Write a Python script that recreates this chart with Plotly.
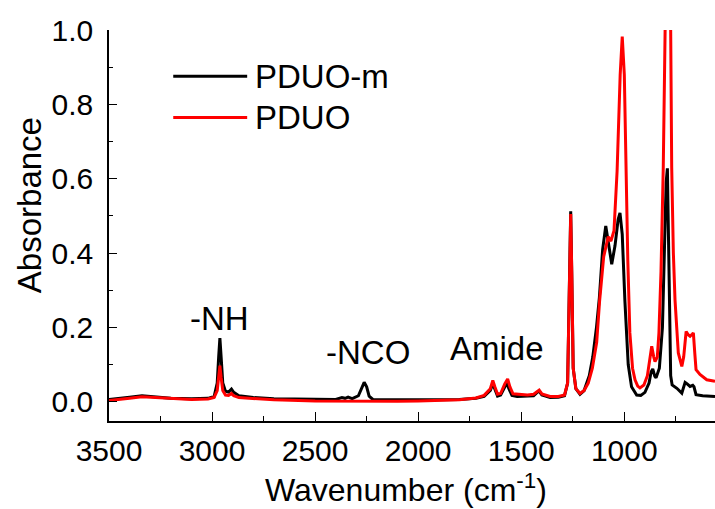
import plotly.graph_objects as go

# FTIR spectra: wavenumber (cm-1) and absorbance
wn_pduo_m = [3500, 3450, 3400, 3340, 3280, 3200, 3100, 3020, 2990, 2975, 2968, 2962, 2956, 2948,
             2935, 2920, 2906, 2895, 2870, 2800, 2700, 2500, 2400, 2370, 2355, 2340, 2320, 2290,
             2275, 2262, 2250, 2238, 2220, 2100, 2000, 1900, 1800, 1720, 1680, 1650, 1638, 1628,
             1615, 1600, 1580, 1570, 1560, 1545, 1520, 1480, 1440, 1420, 1413, 1400, 1360, 1320,
             1290, 1275, 1266, 1260, 1255, 1248, 1235, 1215, 1195, 1185, 1170, 1153, 1135, 1121,
             1105, 1090, 1080, 1061, 1045, 1030, 1021, 1010, 997, 981, 965, 940, 920, 900, 880,
             870, 862, 852, 846, 830, 815, 805, 797, 791, 786, 780, 775, 768, 745, 721, 705, 695,
             681, 668, 662, 652, 620, 560]
abs_pduo_m = [0.006, 0.008, 0.012, 0.016, 0.013, 0.009, 0.008, 0.009, 0.014, 0.05, 0.12, 0.171, 0.12, 0.05,
              0.028, 0.026, 0.034, 0.025, 0.016, 0.011, 0.008, 0.006, 0.006, 0.011, 0.009, 0.012, 0.008, 0.016,
              0.035, 0.052, 0.04, 0.015, 0.006, 0.005, 0.004, 0.005, 0.006, 0.009, 0.014, 0.03, 0.048, 0.034,
              0.015, 0.018, 0.038, 0.05, 0.035, 0.017, 0.014, 0.015, 0.016, 0.026, 0.028, 0.018, 0.011, 0.012,
              0.016, 0.05, 0.3, 0.512, 0.35, 0.09, 0.035, 0.02, 0.03, 0.045, 0.07, 0.12, 0.2, 0.28,
              0.41, 0.473, 0.44, 0.37, 0.42, 0.49, 0.508, 0.45, 0.27, 0.1, 0.04, 0.018, 0.017, 0.025, 0.05,
              0.08, 0.088, 0.068, 0.064, 0.09, 0.2, 0.42, 0.59, 0.628, 0.45, 0.15, 0.07, 0.045, 0.036, 0.023, 0.052, 0.048,
              0.041, 0.044, 0.04, 0.019, 0.016, 0.014]

wn_pduo = [3500, 3450, 3400, 3340, 3280, 3200, 3100, 3020, 2990, 2975, 2968, 2962, 2956, 2948,
           2935, 2920, 2906, 2895, 2870, 2800, 2700, 2500, 2300, 2100, 2000, 1900, 1800, 1720,
           1680, 1650, 1638, 1628, 1615, 1600, 1580, 1566, 1555, 1540, 1506, 1470, 1440, 1420,
           1413, 1400, 1360, 1320, 1290, 1275, 1266, 1260, 1255, 1248, 1235, 1215, 1195, 1175,
           1155, 1134, 1120, 1100, 1078, 1065, 1050, 1035, 1020, 1010, 1000, 992, 983, 973, 960,
           948, 935, 924, 905, 888, 875, 867, 857, 851, 840, 832, 822, 811, 802, 795, 785, 775,
           770, 762, 754, 738, 721, 712, 704, 700, 690, 681, 670, 665, 658, 652, 633, 600, 560]
abs_pduo = [0.003, 0.005, 0.009, 0.013, 0.011, 0.008, 0.006, 0.007, 0.011, 0.03, 0.065, 0.097, 0.065, 0.03,
            0.018, 0.017, 0.022, 0.016, 0.011, 0.008, 0.005, 0.002, 0.001, 0.001, 0.002, 0.003, 0.005, 0.01,
            0.017, 0.035, 0.057, 0.04, 0.02, 0.022, 0.048, 0.061, 0.04, 0.021, 0.02, 0.018, 0.02, 0.03,
            0.031, 0.021, 0.014, 0.014, 0.018, 0.05, 0.3, 0.505, 0.35, 0.09, 0.035, 0.022, 0.03, 0.05,
            0.09, 0.16, 0.27, 0.39, 0.444, 0.432, 0.46, 0.62, 0.88, 0.982, 0.88, 0.63, 0.38, 0.185, 0.09,
            0.059, 0.042, 0.037, 0.045, 0.07, 0.12, 0.149, 0.12, 0.108, 0.12, 0.185, 0.35, 0.63, 1.0, 1.35, 1.35, 1.0,
            0.63, 0.4, 0.274, 0.131, 0.095, 0.12, 0.18, 0.189, 0.18, 0.176, 0.182, 0.185, 0.13, 0.086, 0.073, 0.059, 0.055]

x_ticks = [3500, 3000, 2500, 2000, 1500, 1000]
y_ticks = [0.0, 0.2, 0.4, 0.6, 0.8, 1.0]
x_range = [3500, 560]
y_range = [-0.052, 1.0]

series = [("PDUO-m", wn_pduo_m, abs_pduo_m, "#000000"),
          ("PDUO", wn_pduo, abs_pduo, "#ff0000")]

peak_labels = [("-NH", 2962, 0.225), ("-NCO", 2245, 0.132), ("Amide", 1620, 0.142)]

x_title = "Wavenumber (cm<sup>-1</sup>)"
y_title = "Absorbance"

FONT = "Arial, Liberation Sans, sans-serif"
TICK_FS = 30
TEXT_FS = 33
LW = 3

fig = go.Figure()
for name, wn, ab, color in series:
    fig.add_trace(go.Scatter(x=wn, y=ab, mode="lines", name=name, showlegend=False,
                             line=dict(color=color, width=LW), cliponaxis=True))

axis_common = dict(showgrid=False, zeroline=False, ticks="inside", tickcolor="black",
                   tickfont=dict(family=FONT, size=TICK_FS, color="black"))

fig.update_layout(
    width=715, height=509,
    margin=dict(l=109, r=0, t=30, b=88),
    paper_bgcolor="white", plot_bgcolor="white",
    font=dict(family=FONT, size=TEXT_FS, color="black"),
    xaxis=dict(range=x_range, tickvals=x_ticks, ticklen=9, tickwidth=1.3,
               minor=dict(dtick=250, ticklen=5, ticks="inside", tickcolor="black", tickwidth=1.3),
               showline=True, linecolor="black", linewidth=1.6, ticklabelstandoff=2,
               **axis_common),
    yaxis=dict(range=y_range, tickvals=y_ticks, tickformat=".1f", ticklen=8, tickwidth=1.3,
               minor=dict(dtick=0.1, ticklen=4, ticks="inside", tickcolor="black", tickwidth=1.3),
               showline=True, linecolor="black", linewidth=1.6, ticklabelstandoff=8,
               **axis_common),
    xaxis2=dict(overlaying="x", side="top", range=x_range, tickvals=x_ticks, ticklen=9, tickwidth=1.3,
                minor=dict(dtick=250, ticklen=5, ticks="inside", tickcolor="black", tickwidth=1.3),
                showticklabels=False, showline=True, linecolor="black", linewidth=1.6,
                **axis_common),
    yaxis2=dict(overlaying="y", side="right", range=y_range, tickvals=y_ticks, ticklen=8, tickwidth=1.3,
                minor=dict(dtick=0.1, ticklen=4, ticks="inside", tickcolor="black", tickwidth=1.3),
                showticklabels=False, showline=False, **axis_common),
)

# axis titles
fig.add_annotation(xref="paper", yref="paper", x=0.49, y=-0.228, text=x_title, showarrow=False,
                   xanchor="center", yanchor="bottom", font=dict(family=FONT, size=32, color="black"))
fig.add_annotation(xref="paper", yref="paper", x=-0.132, y=0.552, text=y_title, showarrow=False,
                   textangle=-90, xanchor="center", yanchor="middle",
                   font=dict(family=FONT, size=TEXT_FS, color="black"))

# peak annotations
for text, xv, yv in peak_labels:
    fig.add_annotation(x=xv, y=yv, xref="x", yref="y", text=text, showarrow=False,
                       font=dict(family=FONT, size=TEXT_FS, color="black"))

# legend drawn as line samples with labels
legend_rows = [(0.882, series[0]), (0.776, series[1])]
for ypos, (name, _, _, color) in legend_rows:
    fig.add_shape(type="line", xref="paper", yref="paper", x0=0.106, x1=0.228, y0=ypos, y1=ypos,
                  line=dict(color=color, width=LW))
    fig.add_annotation(xref="paper", yref="paper", x=0.238, y=ypos, text=name, showarrow=False,
                       xanchor="left", yanchor="middle", font=dict(family=FONT, size=TEXT_FS, color="black"))

fig.write_html("out.html")
